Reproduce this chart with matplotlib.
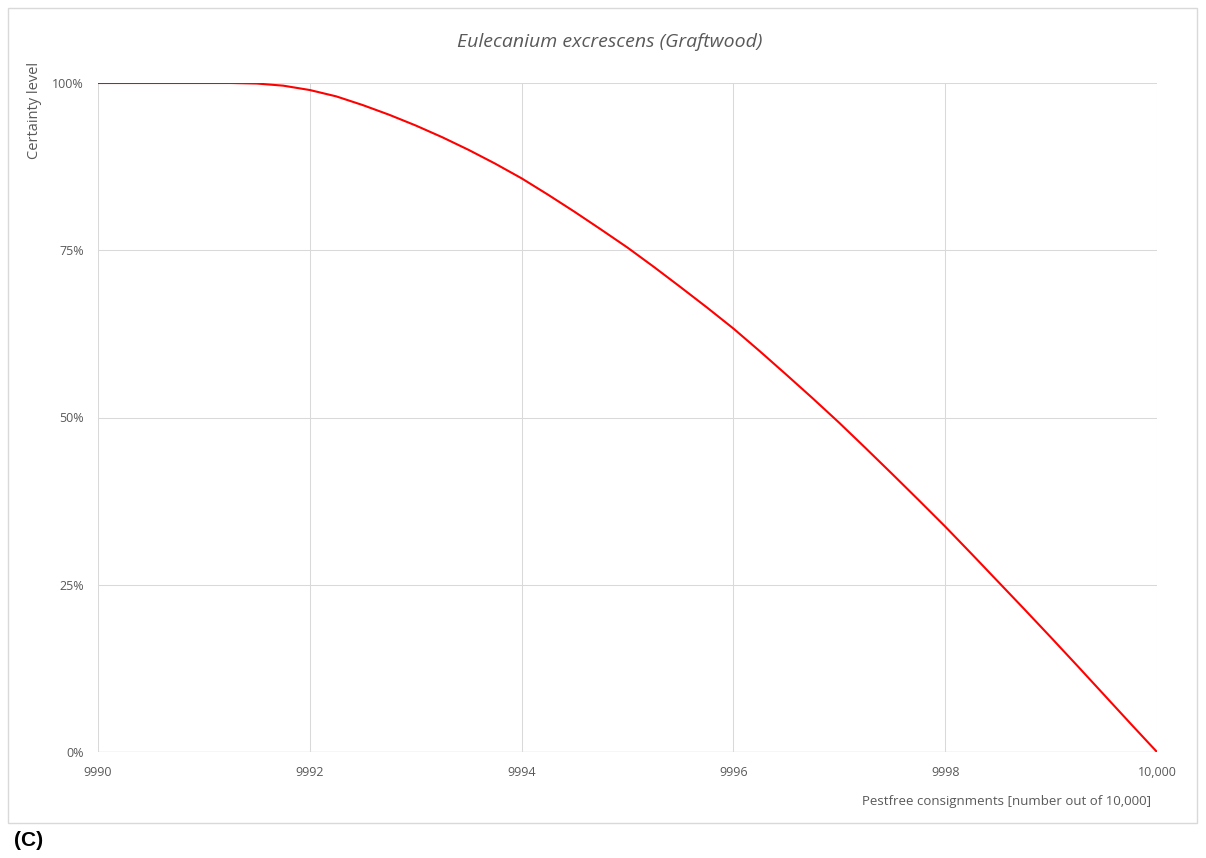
import numpy as np
import matplotlib.pyplot as plt
from matplotlib.patches import Rectangle

# values
consignments = [9990, 9990.5, 9991, 9991.25, 9991.5, 9991.75,
                9992, 9992.25, 9992.5, 9992.75, 9993, 9993.25, 9993.5, 9993.75,
                9994, 9994.25, 9994.5, 9994.75, 9995, 9995.25, 9995.5, 9995.75,
                9996, 9996.25, 9996.5, 9996.75, 9997, 9997.25, 9997.5, 9997.75,
                9998, 9998.25, 9998.5, 9998.75, 9999, 9999.25, 9999.5, 9999.75,
                10000]
certainty = [1.0, 1.0, 1.0, 1.0, 0.9992, 0.996,
             0.9895, 0.980, 0.967, 0.9525, 0.9365, 0.919, 0.900, 0.8795,
             0.8575, 0.833, 0.8075, 0.781, 0.754, 0.725, 0.695, 0.6645,
             0.633, 0.599, 0.564, 0.5285, 0.492, 0.454, 0.4155, 0.3765,
             0.337, 0.296, 0.2545, 0.213, 0.171, 0.1285, 0.0855, 0.0425,
             0.0]

x_ticks = [9990, 9992, 9994, 9996, 9998, 10000]
x_tick_labels = ['9990', '9992', '9994', '9996', '9998', '10,000']
y_ticks = [0, 0.25, 0.5, 0.75, 1.0]
y_tick_labels = ['0%', '25%', '50%', '75%', '100%']

title = 'Eulecanium excrescens (Graftwood)'
xlabel = 'Pestfree consignments [number out of 10,000]'
ylabel = 'Certainty level'

W, H = 1206, 858
txt = '#595959'
grid = '#d9d9d9'
font = 'Open Sans'

fig = plt.figure(figsize=(W / 100, H / 100), dpi=100)

# outer chart border
fig.patches.append(Rectangle((8 / W, 1 - 823 / H), 1189 / W, 815 / H,
                             transform=fig.transFigure, fill=False,
                             edgecolor=grid, linewidth=1))

ax = fig.add_axes([98 / W, 1 - 752 / H, 1059 / W, 669 / H])
ax.plot(consignments, certainty, color='#ff0000', linewidth=1.5,
        solid_joinstyle='round', zorder=3)

ax.set_xlim(9990, 10000)
ax.set_ylim(0, 1)
ax.set_xticks(x_ticks)
ax.set_xticklabels(x_tick_labels, family=font, fontsize=9, color=txt)
ax.set_yticks(y_ticks)
ax.set_yticklabels(y_tick_labels, family=font, fontsize=9, color=txt)
ax.tick_params(length=0, pad=10)
ax.grid(True, color=grid, linewidth=0.75)
for s in ax.spines.values():
    s.set_visible(False)
ax.axhline(0, color=grid, linewidth=1, zorder=2)

fig.text(610 / W, 1 - 42 / H, title, ha='center', va='center',
         family=font, style='italic', fontsize=14, color=txt)
fig.text(1151 / W, 1 - 802 / H, xlabel, ha='right', va='center',
         family=font, fontsize=9.5, color=txt)
fig.text(35 / W, 1 - 62 / H, ylabel, ha='center', va='top', rotation=90,
         family=font, fontsize=10.5, color=txt)
fig.text(14 / W, 1 - 840 / H, '(C)', ha='left', va='center',
         family='Liberation Sans', fontweight='bold', fontsize=15,
         color='black')

fig.savefig('out.png', dpi=100)
